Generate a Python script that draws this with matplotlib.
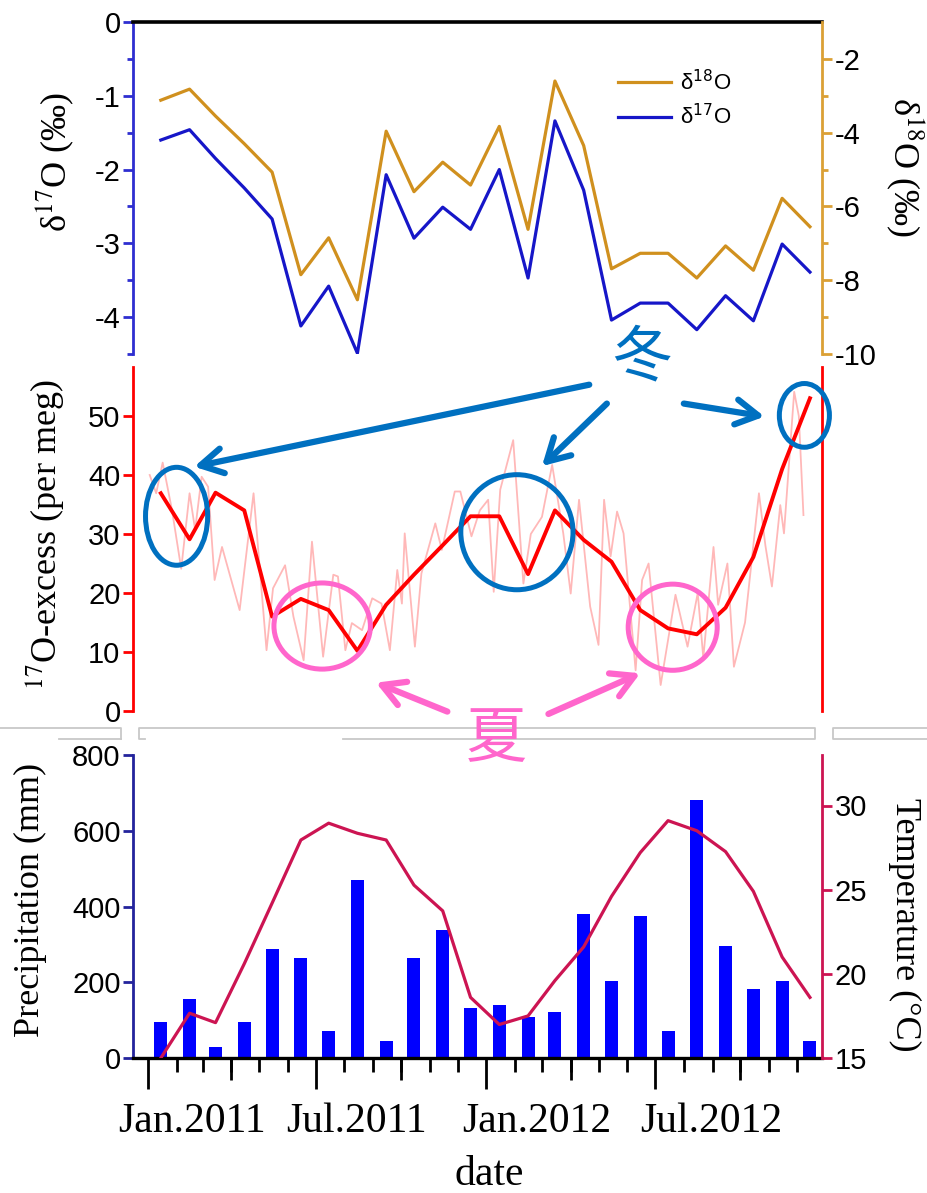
import numpy as np
import pandas as pd
import matplotlib
matplotlib.use('Agg')
import matplotlib.pyplot as plt
import matplotlib.dates as mdates
from matplotlib.patches import Ellipse
from matplotlib.lines import Line2D
from matplotlib.transforms import ScaledTranslation
from matplotlib.font_manager import FontProperties

plt.rcParams['font.family'] = ['Liberation Sans', 'DejaVu Sans']
plt.rcParams['axes.unicode_minus'] = False

# monthly samples, Jan 2011 - Dec 2012 (plotted mid-month)
months = pd.date_range('2011-01-01', periods=24, freq='MS') + pd.Timedelta(days=14)
d18O = [-3.12, -2.82, -3.55, -4.30, -5.07, -7.85, -6.85, -8.53, -3.96, -5.60, -4.80, -5.42,
        -3.83, -6.62, -2.60, -4.35, -7.69, -7.27, -7.27, -7.94, -7.07, -7.73, -5.78, -6.55]
d17O = [-1.60, -1.46, -1.85, -2.25, -2.67, -4.12, -3.58, -4.49, -2.07, -2.93, -2.51, -2.81,
        -2.00, -3.47, -1.34, -2.28, -4.04, -3.81, -3.81, -4.17, -3.71, -4.05, -3.01, -3.39]
excess = [36.9, 29.1, 37.0, 34.0, 16.0, 19.0, 17.1, 10.2, 18.0, 23.1, 28.1, 33.0,
          33.0, 23.2, 34.0, 29.0, 25.3, 17.1, 14.0, 13.0, 17.5, 26.1, 41.0, 53.0]
precip = [96, 156, 28, 96, 288, 264, 70, 470, 46, 264, 337, 132,
          141, 107, 122, 381, 202, 374, 70, 682, 295, 182, 202, 46]
temp = [15.0, 17.66, 17.1, 20.6, 24.2, 27.95, 28.95, 28.35, 27.95, 25.27, 23.74, 18.6,
        16.99, 17.5, 19.6, 21.6, 24.6, 27.2, 29.1, 28.5, 27.26, 24.9, 21.0, 18.6]

# individual samples (thin line)
raw_dates = pd.to_datetime([
    '2011-01-03', '2011-01-10', '2011-01-17', '2011-01-27', '2011-02-06', '2011-02-15',
    '2011-02-21', '2011-02-28', '2011-03-07', '2011-03-14', '2011-03-22', '2011-04-10',
    '2011-04-25', '2011-05-09', '2011-05-16', '2011-05-29', '2011-06-07', '2011-06-18',
    '2011-06-27', '2011-07-09', '2011-07-20', '2011-07-25', '2011-08-02', '2011-08-09',
    '2011-08-20', '2011-08-31', '2011-09-10', '2011-09-19', '2011-09-27', '2011-10-02',
    '2011-10-05', '2011-10-16', '2011-10-23', '2011-11-07', '2011-11-14', '2011-11-28',
    '2011-12-04', '2011-12-16', '2011-12-25', '2012-01-03', '2012-01-09', '2012-01-16',
    '2012-01-30', '2012-02-10', '2012-02-18', '2012-03-01', '2012-03-12', '2012-03-24',
    '2012-04-01', '2012-04-10', '2012-04-22', '2012-05-01', '2012-05-07', '2012-05-14',
    '2012-05-21', '2012-05-28', '2012-06-10', '2012-06-17', '2012-06-24', '2012-07-07',
    '2012-07-23', '2012-08-05', '2012-08-16', '2012-08-22', '2012-09-02', '2012-09-07',
    '2012-09-17', '2012-09-24', '2012-10-06', '2012-10-21', '2012-10-28', '2012-11-04',
    '2012-11-13', '2012-11-17', '2012-11-28', '2012-12-03', '2012-12-08'])
raw_excess = [40.0, 36.9, 42.1, 34.1, 24.1, 36.9, 30.7, 39.7, 38.0, 22.2, 27.8, 17.1,
              36.9, 10.3, 20.8, 24.7, 16.0, 8.6, 28.7, 9.2, 23.1, 22.8, 10.3, 14.9,
              13.7, 19.1, 18.2, 10.3, 23.9, 18.2, 30.1, 10.9, 23.3, 31.8, 27.3, 37.2,
              37.2, 29.6, 34.0, 35.8, 20.2, 37.5, 45.9, 21.6, 30.0, 32.9, 41.7, 30.1,
              19.9, 35.8, 17.7, 11.2, 35.8, 26.2, 33.8, 30.1, 6.9, 22.2, 25.0, 4.4,
              19.7, 10.9, 20.0, 9.0, 27.8, 18.0, 25.0, 7.5, 15.0, 36.9, 28.0, 21.1,
              34.9, 30.1, 54.1, 50.0, 33.2]

date_ticks = pd.to_datetime(['2011-01-01', '2011-07-01', '2012-01-01', '2012-07-01'])
date_labels = ['Jan.2011', 'Jul.2011', 'Jan.2012', 'Jul.2012']
mid_ticks = pd.to_datetime(['2011-04-01', '2011-10-01', '2012-04-01', '2012-10-01'])
month_ticks = pd.date_range('2011-01-01', '2012-12-01', freq='MS')

c18 = '#D0901E'
c17 = '#1616C8'
red = '#FF0000'
crimson = '#CC1452'
blue_ann = '#0070C0'
pink_ann = '#FF66CC'

W, H = 927, 1193
fig = plt.figure(figsize=(W / 100, H / 100), dpi=100)


def box(x0, y0, x1, y1):
    return [x0 / W, 1 - y1 / H, (x1 - x0) / W, (y1 - y0) / H]


def dn(s):
    return mdates.date2num(pd.Timestamp(s))


xm = mdates.date2num(months)
xlim = (dn('2010-12-16'), dn('2012-12-28'))

ax1 = fig.add_axes(box(133, 22, 822, 354))
ax1r = ax1.twinx()
ax2 = fig.add_axes(box(133, 367, 822, 711))
ax3 = fig.add_axes(box(133, 755, 822, 1058))
ax3r = ax3.twinx()

for ax in (ax1, ax2, ax3):
    ax.set_xlim(xlim)

# ---- top: delta17O / delta18O
l17, = ax1.plot(xm, d17O, color=c17, lw=2.3)
l18, = ax1r.plot(xm, d18O, color=c18, lw=2.3)
ax1.set_ylim(-4.5, 0)
ax1r.set_ylim(-10, -1)
ax1.set_yticks(range(-4, 1))
ax1.set_yticks(np.arange(-4.5, 0, 1.0), minor=True)
ax1r.set_yticks(range(-10, -1, 2))
ax1r.set_yticks(range(-9, -2, 2), minor=True)
for s in ('bottom', 'right'):
    ax1.spines[s].set_visible(False)
ax1.spines['top'].set_linewidth(2.6)
ax1.spines['left'].set_color('#2E2ED0')
ax1.spines['left'].set_linewidth(2)
for s in ('top', 'bottom', 'left'):
    ax1r.spines[s].set_visible(False)
ax1r.spines['right'].set_color('#DBA035')
ax1r.spines['right'].set_linewidth(2)
ax1.tick_params(axis='y', which='both', color='#2E2ED0', width=2, labelsize=21, pad=2)
ax1.tick_params(axis='y', which='major', length=7)
ax1.tick_params(axis='y', which='minor', length=4)
ax1r.tick_params(axis='y', which='both', color='#DBA035', width=2, labelsize=21, pad=2)
ax1r.tick_params(axis='y', which='major', length=7)
ax1r.tick_params(axis='y', which='minor', length=4)
for ax in (ax1, ax1r, ax2):
    ax.tick_params(axis='x', which='both', bottom=False, labelbottom=False, top=False)

ax1r.legend([l18, l17], ['δ$^{18}$O', 'δ$^{17}$O'], loc='upper left',
            bbox_to_anchor=(618 / W, 1 - 70 / H), bbox_transform=fig.transFigure,
            frameon=False, handlelength=2.4, handletextpad=0.4, labelspacing=0.4,
            borderpad=0, borderaxespad=0,
            prop=FontProperties(family='Liberation Sans', size=16, math_fontfamily='dejavusans'))

# ---- middle: 17O-excess
ax2.plot(mdates.date2num(raw_dates), raw_excess, color=red, lw=1.3, alpha=0.28)
ax2.plot(xm, excess, color=red, lw=2.8)
ax2.set_ylim(0, 58.3)
ax2.set_yticks(range(0, 51, 10))
for s in ('top', 'bottom'):
    ax2.spines[s].set_visible(False)
for s in ('left', 'right'):
    ax2.spines[s].set_color(red)
    ax2.spines[s].set_linewidth(2)
ax2.tick_params(axis='y', color=red, width=2, length=7, labelsize=21, pad=2, right=False)
ax2.patch.set_alpha(0)
ax2.set_zorder(5)

# ---- bottom: precipitation / temperature
ax3.bar(xm, precip, width=14, color='#0000FF')
ax3r.plot(xm, temp, color=crimson, lw=2.3)
ax3.set_ylim(0, 800)
ax3r.set_ylim(15, 33)
ax3.set_yticks(range(0, 801, 200))
ax3r.set_yticks(range(15, 31, 5))
for s in ('top', 'right'):
    ax3.spines[s].set_visible(False)
ax3.spines['left'].set_color('#23239C')
ax3.spines['left'].set_linewidth(2)
ax3.spines['bottom'].set_linewidth(2.4)
for s in ('top', 'bottom', 'left'):
    ax3r.spines[s].set_visible(False)
ax3r.spines['right'].set_color(crimson)
ax3r.spines['right'].set_linewidth(2)
ax3.tick_params(axis='y', color='#23239C', width=2, length=7, labelsize=21, pad=2)
ax3r.tick_params(axis='y', color=crimson, width=2, length=7, labelsize=21, pad=2)

ax3.set_xticks(mdates.date2num(date_ticks))
ax3.set_xticks(mdates.date2num(month_ticks), minor=True)
ax3.set_xticklabels(date_labels, family=['Liberation Serif', 'DejaVu Serif'], fontsize=30)
ax3.tick_params(axis='x', which='major', length=22, width=2, pad=10)
ax3.tick_params(axis='x', which='minor', length=10, width=2)
sec = ax3.secondary_xaxis('bottom')
sec.set_xticks(mdates.date2num(mid_ticks))
sec.tick_params(axis='x', length=16, width=2, labelbottom=False)
sec.spines['bottom'].set_visible(False)
for tick, off in zip(ax3.xaxis.get_major_ticks(), [44, 41, 50, 56]):
    tick.label1.set_transform(tick.label1.get_transform()
                              + ScaledTranslation(off / 100, 0, fig.dpi_scale_trans))

# ---- axis titles
serif = FontProperties(family=['Liberation Serif', 'DejaVu Serif'], size=26, math_fontfamily='stix')
fig.text(55 / W, 1 - 162 / H, 'δ$^{17}$O (‰)', rotation=90, ha='center', va='center', fontproperties=serif)
fig.text(905 / W, 1 - 167 / H, 'δ$^{18}$O (‰)', rotation=270, ha='center', va='center', fontproperties=serif)
fig.text(45 / W, 1 - 535 / H, '$^{17}$O-excess (per meg)', rotation=90, ha='center', va='center',
         fontproperties=serif)
fig.text(30 / W, 1 - 900 / H, 'Precipitation (mm)', rotation=90, ha='center', va='center',
         fontproperties=serif)
fig.text(905 / W, 1 - 925 / H, 'Temperature (°C)', rotation=270, ha='center', va='center',
         fontproperties=serif)
fig.text(489 / W, 1 - 1175 / H, 'date', ha='center', va='center',
         family=['Liberation Serif', 'DejaVu Serif'], fontsize=30)

# ---- winter / summer annotations
ellipses = [('2011-02-01', 33.0, 67, 16.6, blue_ann), ('2012-02-03', 30.3, 121, 19.5, blue_ann),
            ('2012-12-09', 50.1, 54, 10.8, blue_ann), ('2011-07-08', 14.4, 104, 14.6, pink_ann),
            ('2012-07-20', 14.2, 96, 14.6, pink_ann)]
for d, v, w, h, c in ellipses:
    ax2.add_patch(Ellipse((dn(d), v), w, h, fill=False, ec=c, lw=3.6, clip_on=False, zorder=10))

arrows = [(('2012-04-21', 55.3), ('2011-02-20', 41.4), blue_ann),
          (('2012-05-10', 52.1), ('2012-03-01', 41.5), blue_ann),
          (('2012-08-01', 52.1), ('2012-10-27', 49.9), blue_ann),
          (('2011-11-20', -0.1), ('2011-09-04', 4.8), pink_ann),
          (('2012-03-08', -0.5), ('2012-06-15', 6.4), pink_ann)]
for (d0, v0), (d1, v1), c in arrows:
    ax2.annotate('', xy=(dn(d1), v1), xytext=(dn(d0), v0), annotation_clip=False, zorder=10,
                 arrowprops=dict(arrowstyle='->,head_length=0.8,head_width=0.45', color=c,
                                 lw=4.5, mutation_scale=20, shrinkA=0, shrinkB=0))

ax2.text(dn('2012-06-17'), 59.8, '冬', color=blue_ann, fontsize=44, ha='center', va='center',
         family=['Noto Sans CJK SC', 'DejaVu Sans'], clip_on=False, zorder=11)
ax2.text(dn('2012-01-12'), -4.9, '夏', color=pink_ann, fontsize=44, ha='center', va='center',
         family=['Noto Sans CJK SC', 'DejaVu Sans'], clip_on=False, zorder=11)


# grey frame pieces between the panels
def px_line(xs, ys):
    fig.add_artist(Line2D([x / W for x in xs], [1 - y / H for y in ys], color='#C8C8C8', lw=1.3,
                          zorder=0))


px_line([0, 121, 121], [728, 728, 739])
px_line([59, 121], [739, 739])
px_line([145, 139, 139, 815, 815, 343], [739, 739, 728, 728, 739, 739])
px_line([927, 833, 833, 927], [728, 728, 739, 739])

fig.savefig('out.png', dpi=100)
